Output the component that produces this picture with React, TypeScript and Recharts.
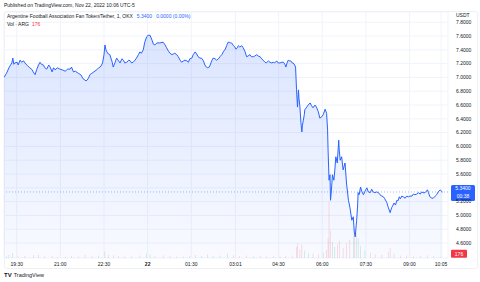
import React from 'react';
import {
  ComposedChart,
  Area,
  Bar,
  Cell,
  XAxis,
  YAxis,
  CartesianGrid,
  ReferenceLine,
} from 'recharts';

const times = [
  '19:04', '19:09', '19:14', '19:20', '19:22', '19:24', '19:26', '19:31', '19:33', '19:37',
  '19:40', '19:44', '19:47', '19:52', '19:57', '20:02', '20:04', '20:08', '20:11', '20:15',
  '20:18', '20:21', '20:25', '20:28', '20:32', '20:36', '20:39', '20:43', '20:46', '20:49',
  '20:54', '20:59', '21:04', '21:10', '21:15', '21:20', '21:23', '21:27', '21:31', '21:37',
  '21:42', '21:47', '21:51', '21:53', '21:55', '21:58', '22:01', '22:05', '22:09', '22:15',
  '22:19', '22:22', '22:25', '22:27', '22:30', '22:32', '22:34', '22:36', '22:39', '22:42',
  '22:47', '22:49', '22:53', '22:56', '23:00', '23:03', '23:07', '23:10', '23:13', '23:17',
  '23:21', '23:24', '23:27', '23:30', '23:34', '23:37', '23:41', '23:44', '23:47', '23:51',
  '23:54', '23:58', '00:01', '00:05', '00:09', '00:12', '00:15', '00:19', '00:25', '00:32',
  '00:36', '00:39', '00:43', '00:46', '00:50', '00:53', '00:56', '01:00', '01:03', '01:07',
  '01:10', '01:14', '01:17', '01:21', '01:24', '01:27', '01:31', '01:34', '01:38', '01:41',
  '01:44', '01:48', '01:51', '01:55', '01:58', '02:01', '02:03', '02:07', '02:09', '02:12',
  '02:15', '02:19', '02:22', '02:26', '02:29', '02:33', '02:36', '02:40', '02:43', '02:44',
  '02:46', '02:48', '02:51', '02:53', '02:57', '03:00', '03:02', '03:05', '03:07', '03:10',
  '03:14', '03:17', '03:21', '03:24', '03:27', '03:31', '03:34', '03:38', '03:41', '03:45',
  '03:48', '03:52', '03:55', '03:58', '04:02', '04:05', '04:09', '04:12', '04:16', '04:19',
  '04:22', '04:26', '04:29', '04:33', '04:37', '04:40', '04:43', '04:45', '04:48', '04:50',
  '04:52', '04:55', '04:58', '05:00', '05:03', '05:05', '05:07', '05:09', '05:11', '05:12',
  '05:14', '05:16', '05:18', '05:19', '05:21', '05:23', '05:24', '05:28', '05:31', '05:35',
  '05:38', '05:41', '05:45', '05:48', '05:52', '05:55', '05:59', '06:02', '06:06', '06:09',
  '06:11', '06:12', '06:14', '06:16', '06:17', '06:19', '06:21', '06:24', '06:26', '06:28',
  '06:31', '06:34', '06:35', '06:37', '06:40', '06:43', '06:47', '06:50', '06:54', '06:57',
  '07:01', '07:04', '07:06', '07:08', '07:10', '07:11', '07:13', '07:14', '07:16', '07:19',
  '07:22', '07:25', '07:28', '07:32', '07:35', '07:39', '07:42', '07:45', '07:49', '07:52',
  '07:56', '07:59', '08:03', '08:06', '08:09', '08:13', '08:16', '08:20', '08:23', '08:26',
  '08:28', '08:31', '08:34', '08:36', '08:39', '08:41', '08:44', '08:47', '08:51', '08:54',
  '08:58', '09:01', '09:05', '09:08', '09:11', '09:15', '09:18', '09:22', '09:25', '09:28',
  '09:32', '09:34', '09:37', '09:39', '09:42', '09:46', '09:49', '09:53', '09:56', '09:59',
  '10:03', '10:06', '10:08',
];

const prices = [
  7.00, 7.06, 7.14, 7.21, 7.28, 7.19, 7.21, 7.22, 7.18, 7.25,
  7.22, 7.24, 7.21, 7.17, 7.14, 7.11, 7.08, 7.04, 7.11, 7.18,
  7.22, 7.19, 7.18, 7.14, 7.12, 7.18, 7.15, 7.08, 7.14, 7.11,
  7.14, 7.12, 7.11, 7.09, 7.12, 7.12, 7.15, 7.08, 7.09, 7.06,
  7.04, 6.98, 6.96, 6.95, 6.96, 6.99, 7.04, 7.06, 7.08, 7.11,
  7.14, 7.15, 7.18, 7.21, 7.33, 7.47, 7.40, 7.37, 7.34, 7.33,
  7.22, 7.15, 7.22, 7.28, 7.24, 7.21, 7.27, 7.25, 7.21, 7.22,
  7.25, 7.24, 7.21, 7.22, 7.25, 7.28, 7.33, 7.37, 7.35, 7.40,
  7.51, 7.59, 7.61, 7.61, 7.54, 7.48, 7.47, 7.50, 7.50, 7.51,
  7.47, 7.43, 7.38, 7.35, 7.33, 7.34, 7.35, 7.33, 7.30, 7.25,
  7.22, 7.24, 7.25, 7.24, 7.22, 7.27, 7.28, 7.33, 7.37, 7.34,
  7.30, 7.28, 7.28, 7.24, 7.18, 7.15, 7.14, 7.15, 7.18, 7.24,
  7.28, 7.27, 7.25, 7.27, 7.30, 7.33, 7.37, 7.41, 7.46, 7.48,
  7.51, 7.51, 7.50, 7.50, 7.46, 7.44, 7.41, 7.43, 7.46, 7.44,
  7.46, 7.43, 7.37, 7.30, 7.31, 7.33, 7.30, 7.30, 7.31, 7.33,
  7.31, 7.30, 7.27, 7.25, 7.22, 7.21, 7.24, 7.22, 7.21, 7.22,
  7.21, 7.24, 7.21, 7.21, 7.22, 7.22, 7.19, 7.15, 7.22, 7.25,
  7.24, 7.24, 7.21, 7.21, 7.18, 7.15, 6.82, 6.57, 6.82, 6.70,
  6.57, 6.35, 6.21, 6.30, 6.38, 6.46, 6.53, 6.57, 6.60, 6.63,
  6.59, 6.56, 6.60, 6.57, 6.50, 6.41, 6.43, 6.46, 6.54, 6.48,
  6.24, 5.95, 5.51, 5.59, 5.22, 5.37, 5.59, 5.51, 5.66, 5.85,
  5.76, 6.09, 5.95, 5.80, 5.85, 5.66, 5.76, 5.47, 5.22, 5.12,
  4.93, 4.98, 4.76, 4.69, 4.86, 4.93, 5.15, 5.33, 5.30, 5.41,
  5.34, 5.30, 5.35, 5.40, 5.34, 5.33, 5.38, 5.34, 5.33, 5.34,
  5.33, 5.30, 5.28, 5.27, 5.24, 5.19, 5.12, 5.04, 5.11, 5.15,
  5.18, 5.15, 5.22, 5.21, 5.27, 5.24, 5.28, 5.27, 5.25, 5.28,
  5.27, 5.28, 5.28, 5.31, 5.30, 5.31, 5.33, 5.31, 5.34, 5.33,
  5.33, 5.35, 5.37, 5.33, 5.27, 5.25, 5.25, 5.28, 5.30, 5.34,
  5.37, 5.35, 5.34,
];

// volume bars (ARG), only the visible ones
const volTimes = [
  '19:09', '19:14', '19:22', '19:33', '19:47', '20:04', '20:15', '20:28', '20:43', '20:54',
  '21:10', '21:23', '21:37', '21:51', '22:05', '22:19', '22:32', '22:39', '22:49', '23:00',
  '23:13', '23:27', '23:44', '23:58', '00:05', '00:15', '00:32', '00:46', '01:00', '01:14',
  '01:27', '01:38', '01:51', '02:03', '02:15', '02:29', '02:44', '02:57', '03:10', '03:24',
  '03:38', '03:52', '04:05', '04:19', '04:33', '04:45', '04:58', '05:07', '05:09', '05:14',
  '05:18', '05:23', '05:31', '05:41', '05:52', '06:02', '06:09', '06:12', '06:14', '06:17',
  '06:21', '06:26', '06:31', '06:35', '06:43', '06:50', '06:57', '07:04', '07:06', '07:10',
  '07:14', '07:19', '07:28', '07:39', '07:49', '08:03', '08:16', '08:20', '08:28', '08:41',
  '08:54', '09:08', '09:22', '09:37', '09:49', '10:03', '10:08',
];

const volumes = [
  1500, 2500, 3800, 1200, 1800, 2200, 2600, 1400, 1900, 900,
  1100, 1600, 1300, 2400, 1500, 2000, 5200, 2600, 2200, 1700,
  1200, 1400, 2100, 3600, 2800, 1800, 2300, 1600, 1300, 1100,
  1900, 2400, 1500, 2700, 1800, 2100, 3900, 2300, 1700, 2000,
  1400, 1600, 1200, 1500, 1300, 1900, 2100, 9000, 12000, 7000,
  11000, 6000, 4000, 3500, 3000, 4200, 6500, 16000, 46000, 22000,
  13000, 9000, 11000, 14000, 8000, 12000, 15000, 18000, 24000, 20000,
  16000, 10000, 6000, 4000, 3000, 2500, 5000, 8000, 3500, 2000,
  1800, 1500, 1700, 2200, 1400, 1000, 176,
];

const timeTicks = ['19:30', '21:00', '22:30', '00:00', '01:30', '03:01', '04:30', '06:00', '07:30', '09:00', '10:05'];
const timeLabels = ['19:30', '21:00', '22:30', '22', '01:30', '03:01', '04:30', '06:00', '07:30', '09:00', '10:05'];
const priceTicks = [4.6, 4.8, 5.0, 5.2, 5.4, 5.6, 5.8, 6.0, 6.2, 6.4, 6.6, 6.8, 7.0, 7.2, 7.4, 7.6, 7.8];
const lastPrice = 5.34;
const lastVolume = 176;

const FONT = '"Liberation Sans", Arial, sans-serif';
const TEXT = '#131722';
const BLUE = '#2962ff';
const RED = '#f23645';
const GREEN = '#089981';

// minutes since 19:00 on Nov 21
const toMinutes = (s: string) => {
  const [h, m] = s.split(':').map(Number);
  return (h >= 12 ? h - 19 : h + 5) * 60 + m;
};

type Row = { t: number; price?: number; vol?: number; up?: boolean };

const rowsByTime = new Map<number, Row>();
times.forEach((s, i) => {
  const t = toMinutes(s);
  rowsByTime.set(t, { t, price: prices[i] });
});
volTimes.forEach((s, i) => {
  const t = toMinutes(s);
  const row = rowsByTime.get(t) ?? { t };
  row.vol = volumes[i];
  rowsByTime.set(t, row);
});
const data = [...rowsByTime.values()].sort((a, b) => a.t - b.t);
let prev = prices[0];
data.forEach((r) => {
  if (r.price != null) {
    r.up = r.price >= prev;
    prev = r.price;
  } else r.up = true;
});

const tickMinutes = timeTicks.map(toMinutes);

const TimeTick = (props: any) => {
  const { x, y, payload } = props;
  const i = tickMinutes.indexOf(payload.value);
  const label = timeLabels[i];
  return (
    <text x={x} y={y + 8} textAnchor="middle" fontSize={5} fontFamily={FONT} fill={TEXT} fontWeight={label === '22' ? 700 : 400}>
      {label}
    </text>
  );
};

// the 5.4000 label sits under the last-price tag, so it is left blank
const priceLabel = (v: number) => (Math.abs(v - 5.4) < 1e-6 ? '' : v.toFixed(4));

const PriceTag = (props: any) => {
  const { viewBox } = props;
  if (!viewBox) return null;
  const x = viewBox.x + viewBox.width + 3;
  const y = viewBox.y;
  return (
    <g>
      <rect x={x} y={y - 7} width={24} height={16} rx={1.5} fill={BLUE} />
      <text x={x + 12} y={y - 1.5} textAnchor="middle" fontSize={5} fontFamily={FONT} fill="#fff">{lastPrice.toFixed(4)}</text>
      <text x={x + 12} y={y + 6} textAnchor="middle" fontSize={5} fontFamily={FONT} fill="#fff">00:38</text>
    </g>
  );
};

const VolTag = (props: any) => {
  const { viewBox } = props;
  if (!viewBox) return null;
  const x = viewBox.x + viewBox.width + 3;
  const y = viewBox.y;
  return (
    <g>
      <rect x={x} y={y - 8} width={16} height={8} rx={1} fill={RED} />
      <text x={x + 8} y={y - 2.2} textAnchor="middle" fontSize={5} fontFamily={FONT} fill="#fff">{lastVolume}</text>
    </g>
  );
};

const abs = (left: number, top: number): React.CSSProperties => ({
  position: 'absolute',
  left,
  top,
  fontSize: 5,
  lineHeight: '6px',
  fontFamily: FONT,
  color: TEXT,
  whiteSpace: 'nowrap',
});

export default function App() {
  return (
    <div style={{ position: 'relative', width: 480, height: 282, background: '#fff', overflow: 'hidden' }}>
      <style>{'body{margin:0}'}</style>
      <div style={{ position: 'absolute', left: 4, top: 11, width: 474, height: 258, border: '1px solid #eef0f5', borderRadius: 3, boxSizing: 'border-box' }} />
      <ComposedChart width={480} height={282} data={data} margin={{ top: 12, right: 0, bottom: 0, left: 4 }}>
        <defs>
          <linearGradient id="areaFill" x1="0" y1="0" x2="0" y2="1">
            <stop offset="0%" stopColor={BLUE} stopOpacity={0.28} />
            <stop offset="100%" stopColor={BLUE} stopOpacity={0.05} />
          </linearGradient>
        </defs>
        <CartesianGrid yAxisId="price" stroke="#f0f3fa" />
        <XAxis
          type="number"
          dataKey="t"
          domain={[3.8, 919.3]}
          ticks={tickMinutes}
          interval={0}
          height={24}
          axisLine={false}
          tickLine={false}
          tickSize={0}
          tickMargin={0}
          tick={<TimeTick />}
          allowDataOverflow
        />
        <YAxis
          yAxisId="price"
          orientation="right"
          width={32}
          domain={[4.383, 7.948]}
          ticks={priceTicks}
          interval={0}
          axisLine={false}
          tickLine={false}
          tick={{ fontSize: 5, fill: TEXT, fontFamily: FONT }}
          tickFormatter={priceLabel}
          allowDataOverflow
        />
        <YAxis yAxisId="vol" hide domain={[0, 200000]} />
        <Bar yAxisId="vol" dataKey="vol" barSize={1} isAnimationActive={false}>
          {data.map((r, i) => (
            <Cell key={`vol-${i}`} fill={r.up ? GREEN : RED} fillOpacity={0.35} />
          ))}
        </Bar>
        <Area
          yAxisId="price"
          type="linear"
          dataKey="price"
          stroke={BLUE}
          strokeWidth={1}
          fill="url(#areaFill)"
          connectNulls
          dot={false}
          activeDot={false}
          isAnimationActive={false}
        />
        <ReferenceLine yAxisId="price" y={lastPrice} stroke={BLUE} strokeOpacity={0.45} strokeDasharray="1 2" label={<PriceTag />} />
        <ReferenceLine yAxisId="vol" y={lastVolume} stroke="none" label={<VolTag />} />
      </ComposedChart>

      <div style={abs(4, 2)}>Published on TradingView.com, Nov 22, 2022 10:06 UTC-5</div>
      <div style={abs(7, 13)}>
        Argentine Football Association Fan Token/Tether, 1, OKX
        <span style={{ color: BLUE, marginLeft: 4 }}>5.3400</span>
        <span style={{ color: BLUE, marginLeft: 4 }}>0.0000 (0.00%)</span>
      </div>
      <div style={abs(7, 21)}>
        Vol · ARG<span style={{ color: RED, marginLeft: 3 }}>176</span>
      </div>
      <div style={abs(456, 12)}>USDT</div>
      <div style={{ ...abs(4, 272), fontSize: 5.5 }}>
        <b style={{ fontSize: 6, marginRight: 2 }}>TV</b>TradingView
      </div>
    </div>
  );
}
